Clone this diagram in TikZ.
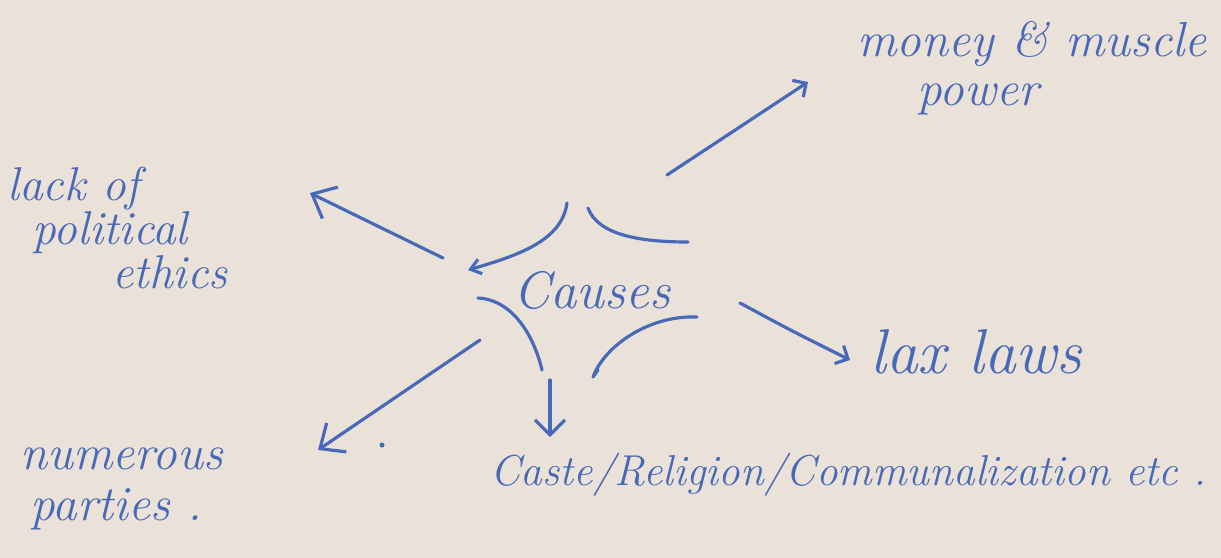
\documentclass[tikz,border=0pt]{standalone}
\usepackage{tikz}
\usetikzlibrary{positioning,arrows.meta}
\definecolor{ink}{RGB}{72,104,184}
\definecolor{paper}{RGB}{234,226,217}

\begin{document}
\begin{tikzpicture}[
    x=0.02cm, y=-0.02cm,
    hand/.style={text=ink, inner sep=0pt},
    pen/.style={draw=ink, line width=1.8pt, line cap=round, line join=round},
    penarrow/.style={pen, -{Straight Barb[length=3mm,width=6mm]}}
    ]
    \fill[paper] (0,0) rectangle (1221,558);
    \useasboundingbox (0,0) rectangle (1221,558);

    % labels
    \node[hand, font=\fontsize{30}{30}\selectfont\itshape] (causes) at (592,290) {Causes};
    \node[hand, align=left, anchor=west, font=\fontsize{28}{28}\selectfont\itshape] (money) at (857,68) {money \& muscle\\\hspace{1.2cm}power};
    \node[hand, align=left, anchor=west, font=\fontsize{27}{21}\selectfont\itshape] (ethics) at (7,228) {lack of\\\hspace{0.5cm}political\\\hspace{2.1cm}ethics};
    \node[hand, anchor=west, font=\fontsize{36}{36}\selectfont\itshape] (lax) at (870,352) {lax laws};
    \node[hand, align=left, anchor=west, font=\fontsize{28}{29}\selectfont\itshape] (parties) at (20,489) {numerous\\\hspace{0.2cm}parties .};
    \node[hand, anchor=west, font=\fontsize{24.6}{24}\selectfont\itshape] (caste) at (490,475) {Caste/Religion/Communalization etc .};

    % arrow ends
    \coordinate (toMoney) at (667,175);   \coordinate (atMoney) at (808,82);
    \coordinate (toEthics) at (443,258);  \coordinate (atEthics) at (310,193);
    \coordinate (toLax) at (740,303);     \coordinate (atLax) at (850,360);
    \coordinate (toParties) at (480,340); \coordinate (atParties) at (318,450);
    \coordinate (toCaste) at (550,380);   \coordinate (atCaste) at (550,437);

    \draw[penarrow, -{Straight Barb[length=2mm,width=4mm]}] (toMoney) -- (atMoney);
    \draw[penarrow, -{Straight Barb[length=4mm,width=7mm]}] (toEthics) -- (atEthics);
    \draw[penarrow, -{Straight Barb[length=2mm,width=4mm]}] (toLax) .. controls (790,330) .. (atLax);
    \draw[penarrow, -{Straight Barb[length=4mm,width=7mm]}] (toParties) -- (atParties);
    \draw[penarrow] (toCaste) -- (atCaste);

    % strokes round Causes
    \draw[penarrow, -{Straight Barb[length=2mm,width=3mm]}] (567,203) .. controls (562,240) and (520,255) .. (468,270);
    \draw[pen] (588,208) .. controls (598,235) and (640,242) .. (688,242);
    \draw[pen] (478,298) .. controls (515,300) and (535,340) .. (542,370);
    \draw[pen] (697,317) .. controls (650,315) and (605,345) .. (593,377) -- (598,370);
    \fill[ink] (382,445) circle (2.5);
\end{tikzpicture}
\end{document}
